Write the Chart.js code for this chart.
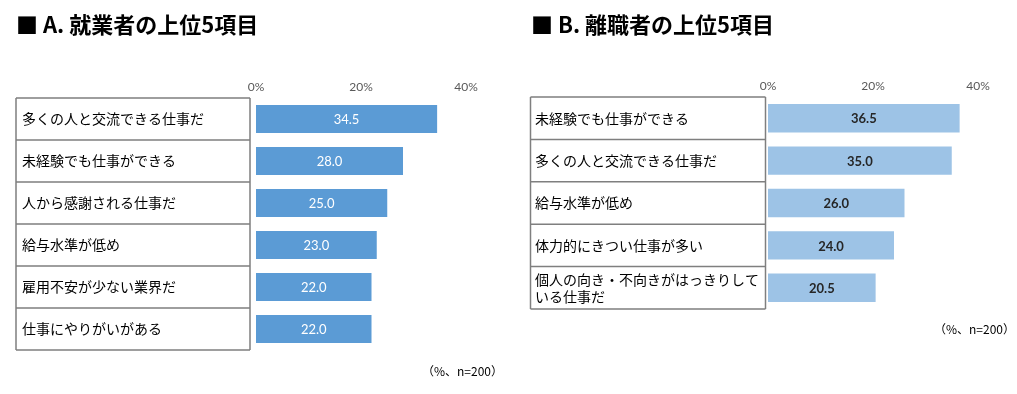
<!DOCTYPE html>
<html>
<head>
<meta charset="utf-8">
<script src="https://cdn.jsdelivr.net/npm/chart.js@4/dist/chart.umd.min.js"></script>
<style>
  body { margin: 0; background: #fff; width: 1017px; height: 394px; position: relative; overflow: hidden; }
  .box { position: absolute; top: 0; height: 394px; }
  .title { position: absolute; font: bold 22px "Noto Sans CJK JP", sans-serif; color: #000; line-height: 1; white-space: nowrap; }
  .note { position: absolute; font: 12px "Noto Sans CJK JP", sans-serif; color: #000; line-height: 1; white-space: nowrap; }
</style>
</head>
<body>
<div class="box" style="left:0;width:510px"><canvas id="chartA"></canvas></div>
<div class="box" style="left:510px;width:507px"><canvas id="chartB"></canvas></div>
<div class="title" style="left:16px;top:12px">■ A. 就業者の上位5項目</div>
<div class="title" style="left:531px;top:12px">■ B. 離職者の上位5項目</div>
<div class="note" style="left:422px;top:365px">（%、n=200）</div>
<div class="note" style="left:934px;top:323px">（%、n=200）</div>
<script>
// ===== データ =====
const labelsA = ['多くの人と交流できる仕事だ', '未経験でも仕事ができる', '人から感謝される仕事だ', '給与水準が低め', '雇用不安が少ない業界だ', '仕事にやりがいがある'];
const valuesA = [34.5, 28.0, 25.0, 23.0, 22.0, 22.0];

const labelsB = ['未経験でも仕事ができる', '多くの人と交流できる仕事だ', '給与水準が低め', '体力的にきつい仕事が多い', ['個人の向き・不向きがはっきりして', 'いる仕事だ']];
const valuesB = [36.5, 35.0, 26.0, 24.0, 20.5];

const xTicks = [0, 20, 40];

// 左側の項目表（枠線）
const tablePlugin = {
    id: 'labelTable',
    afterDraw(chart, args, opts) {
        const ctx = chart.ctx;
        const y = chart.scales.y;
        const area = chart.chartArea;
        const n = chart.data.labels.length;
        const left = y.left - opts.inset;
        const right = y.right - opts.gap;
        const lines = [area.top];
        for (let i = 0; i < n - 1; i++) {
            lines.push((y.getPixelForValue(i) + y.getPixelForValue(i + 1)) / 2);
        }
        lines.push(area.bottom);
        ctx.save();
        ctx.strokeStyle = '#7f7f7f';
        ctx.lineWidth = 1.5;
        ctx.beginPath();
        lines.forEach(py => {
            ctx.moveTo(left, py);
            ctx.lineTo(right, py);
        });
        ctx.moveTo(left, area.top);
        ctx.lineTo(left, area.bottom);
        ctx.moveTo(right, area.top);
        ctx.lineTo(right, area.bottom);
        ctx.stroke();
        ctx.restore();
    }
};

// 棒の中の数値
const valuePlugin = {
    id: 'barValues',
    afterDatasetsDraw(chart, args, opts) {
        const ctx = chart.ctx;
        const meta = chart.getDatasetMeta(0);
        const data = chart.data.datasets[0].data;
        ctx.save();
        ctx.fillStyle = opts.color;
        ctx.font = opts.font;
        ctx.textAlign = 'center';
        ctx.textBaseline = 'middle';
        meta.data.forEach((bar, i) => {
            ctx.fillText(data[i].toFixed(1), (bar.x + bar.base) / 2, bar.y + 1);
        });
        ctx.restore();
    }
};

function makeChart(id, labels, values, cfg) {
    return new Chart(document.getElementById(id), {
        type: 'bar',
        data: {
            labels: labels,
            datasets: [{
                data: values,
                backgroundColor: cfg.color,
                categoryPercentage: 1,
                barPercentage: 0.67
            }]
        },
        options: {
            indexAxis: 'y',
            responsive: true,
            maintainAspectRatio: false,
            animation: false,
            layout: { padding: cfg.padding },
            plugins: {
                legend: { display: false },
                tooltip: { enabled: false },
                labelTable: { inset: cfg.inset, gap: cfg.gap },
                barValues: { color: cfg.valueColor, font: cfg.valueFont }
            },
            scales: {
                x: {
                    position: 'top',
                    min: 0,
                    max: 40,
                    afterBuildTicks: s => { s.ticks = xTicks.map(v => ({ value: v })); },
                    afterFit: s => { s.height = cfg.xHeight; },
                    grid: { display: false, drawTicks: false },
                    border: { display: false },
                    ticks: {
                        padding: 4,
                        color: '#595959',
                        font: { family: 'Lato, "Open Sans", sans-serif', size: 12 },
                        callback: v => v + '%'
                    }
                },
                y: {
                    afterFit: s => { s.width = cfg.yWidth; },
                    grid: { display: false, drawTicks: false },
                    border: { display: false },
                    ticks: {
                        crossAlign: 'far',
                        padding: 0,
                        autoSkip: false,
                        color: '#000',
                        font: { family: '"Noto Sans CJK JP", sans-serif', size: 14, lineHeight: 1.2 }
                    }
                }
            }
        },
        plugins: [tablePlugin, valuePlugin]
    });
}

makeChart('chartA', labelsA, valuesA, {
    color: '#5b9bd5',
    padding: { left: 22, top: 60, right: 44, bottom: 44 },
    xHeight: 38,
    yWidth: 234,
    inset: 6,
    gap: 6,
    valueColor: '#ffffff',
    valueFont: '13px Lato, "Open Sans", sans-serif'
});

makeChart('chartB', labelsB, valuesB, {
    color: '#9dc3e6',
    padding: { left: 25, top: 60, right: 39, bottom: 85 },
    xHeight: 37,
    yWidth: 233,
    inset: 4.5,
    gap: 2.5,
    valueColor: '#262626',
    valueFont: 'bold 13px Lato, "Open Sans", sans-serif'
});
</script>
</body>
</html>
